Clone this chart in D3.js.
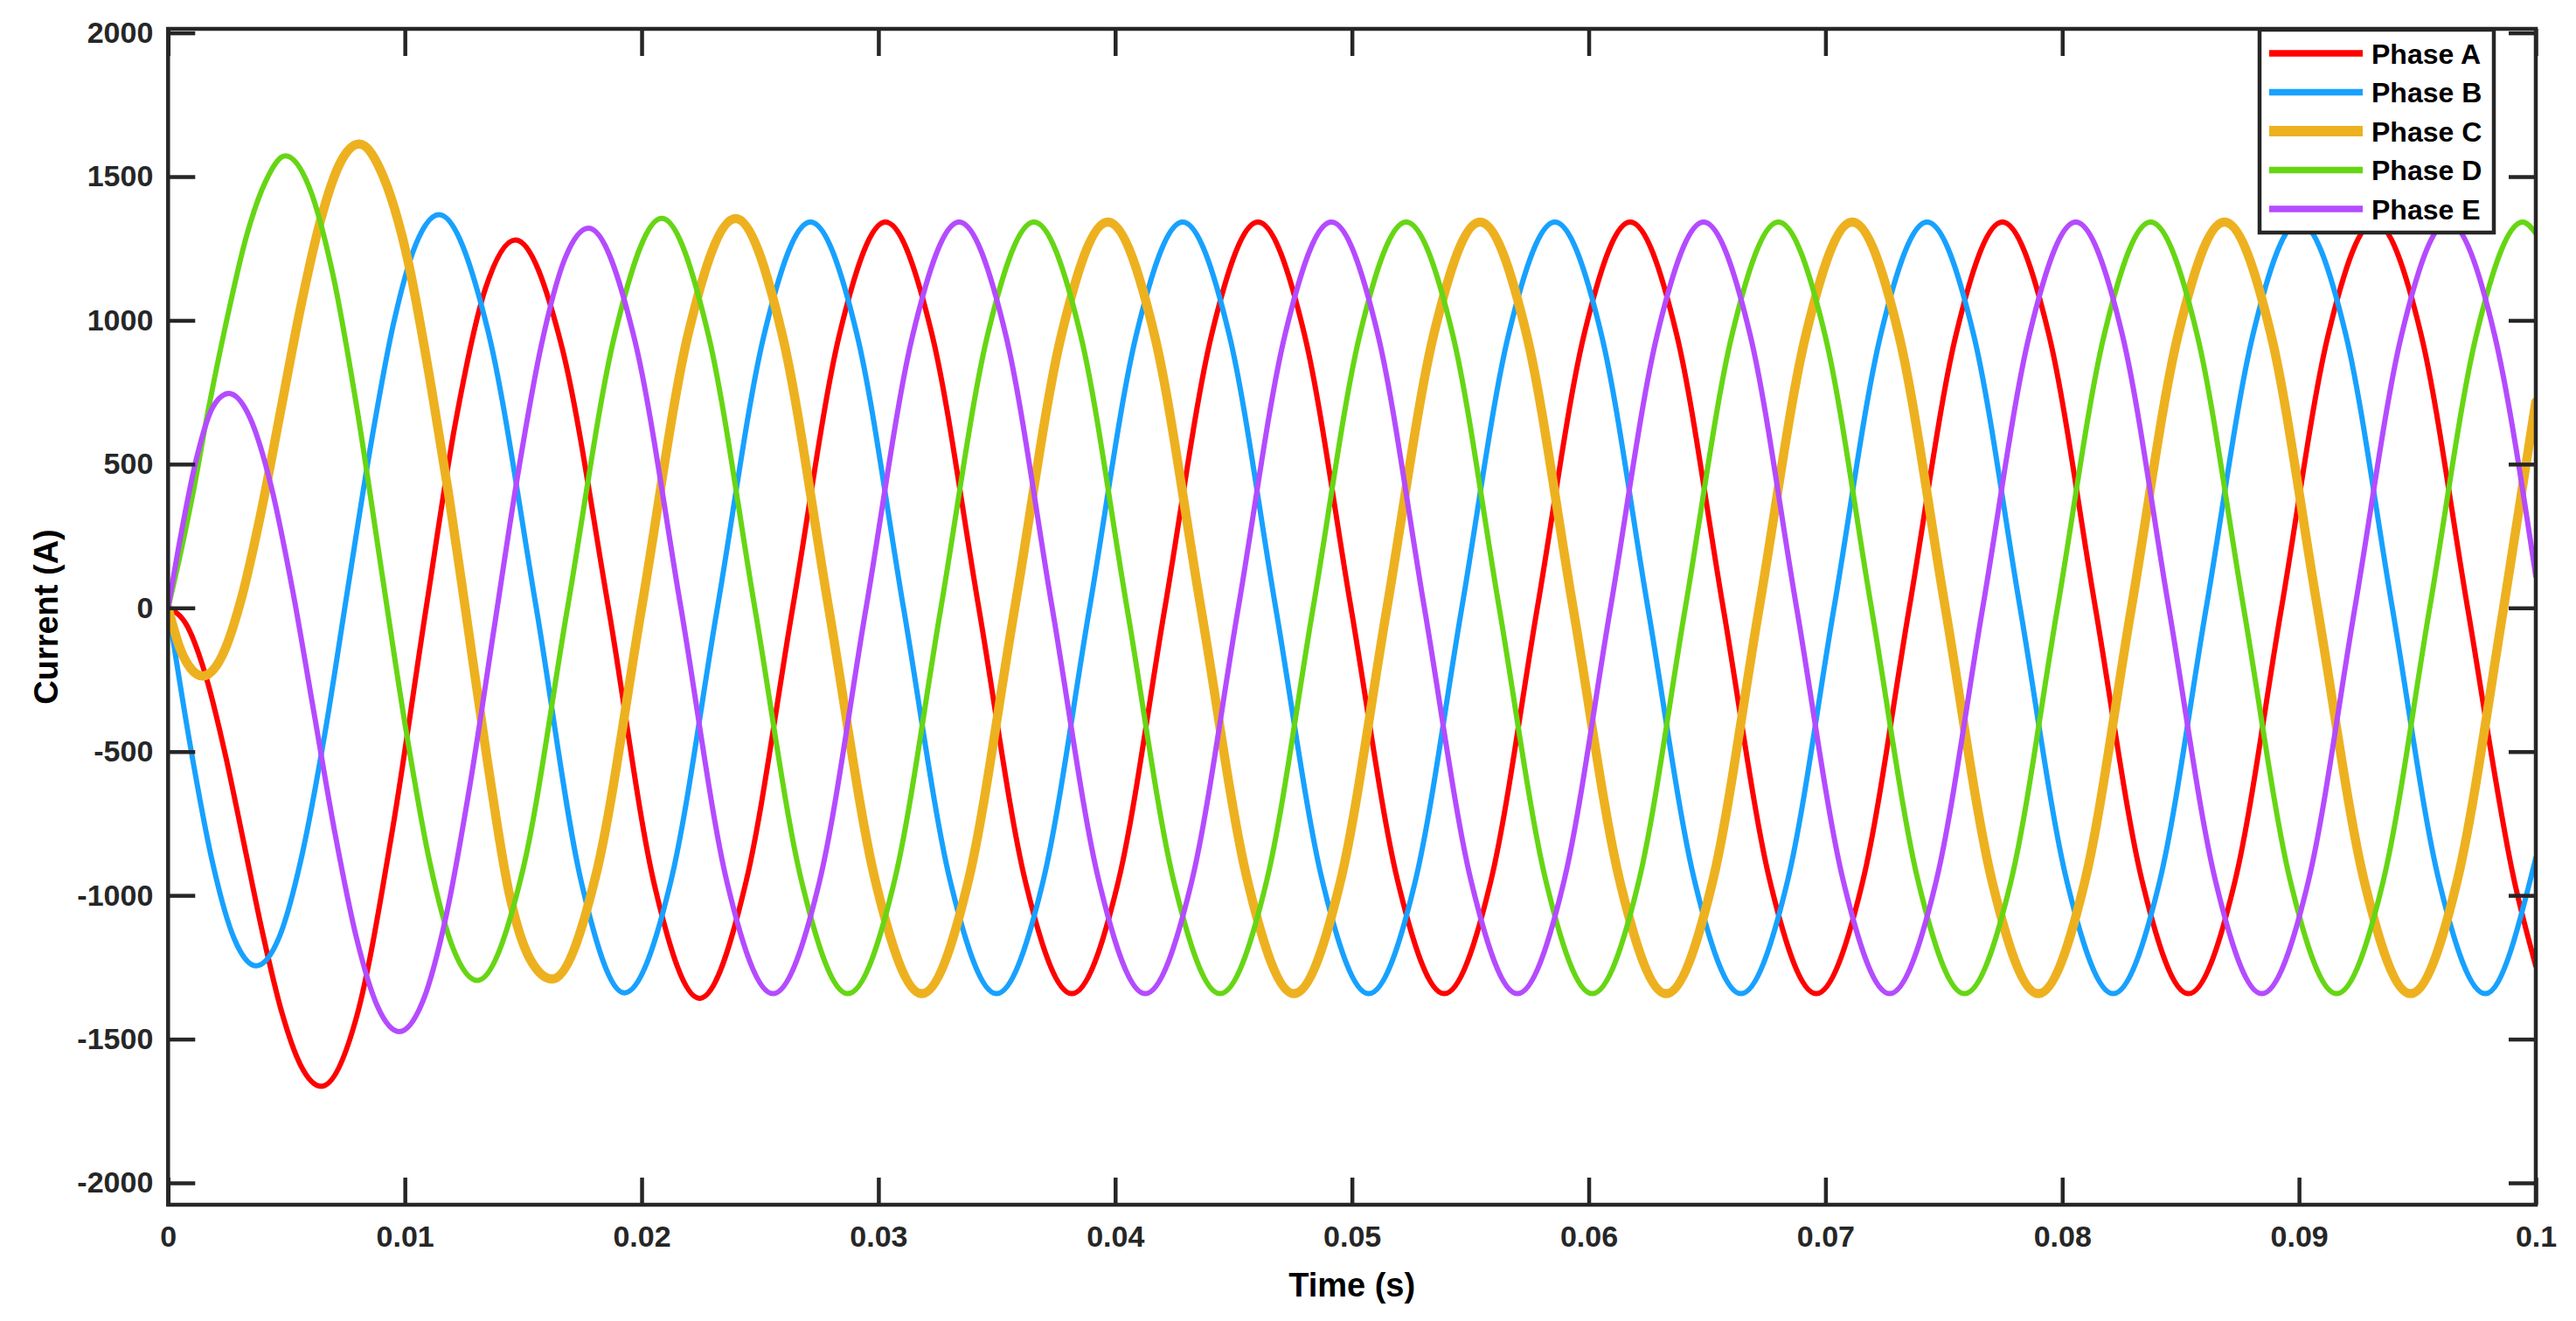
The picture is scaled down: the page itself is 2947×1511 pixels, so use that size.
<!DOCTYPE html>
<html>
<head>
<meta charset="utf-8">
<script src="https://cdn.jsdelivr.net/npm/d3@7"></script>
<style>
  html, body { margin: 0; padding: 0; background: #fff; }
  svg { display: block; }
  text { font-family: "Liberation Sans", Arial, sans-serif; font-weight: bold; }
</style>
</head>
<body>
<svg id="chart" width="2947" height="1511"></svg>
<script>
// ---------------- DATA ----------------
const xTicks = [0, 0.01, 0.02, 0.03, 0.04, 0.05, 0.06, 0.07, 0.08, 0.09, 0.1];
const xTickLabels = ["0", "0.01", "0.02", "0.03", "0.04", "0.05", "0.06", "0.07", "0.08", "0.09", "0.1"];
const yTicks = [-2000, -1500, -1000, -500, 0, 500, 1000, 1500, 2000];
const yTickLabels = ["-2000", "-1500", "-1000", "-500", "0", "500", "1000", "1500", "2000"];
const seriesNames = ["Phase A", "Phase B", "Phase C", "Phase D", "Phase E"];

// [time (s), current (A)]
const phaseA = [
  [0,0],[0.0008,-62],[0.0016,-239],[0.0024,-504],[0.0032,-818],[0.004,-1134],[0.0048,-1406],[0.0056,-1591],
  [0.00647,-1664],[0.00797,-1420],[0.00944,-790],[0.0109,0],[0.01215,650],[0.0134,1110],[0.01467,1280],
  [0.01664,905],[0.0186,0],[0.02053,-960],[0.02245,-1358],[0.02442,-949],[0.02638,0],[0.02835,949],
  [0.0303,1342],[0.03227,949],[0.03424,0],[0.0362,-949],[0.03817,-1342],[0.04014,-949],[0.0421,0],
  [0.04407,949],[0.04603,1342],[0.048,949],[0.04996,0],[0.05193,-949],[0.0539,-1342],[0.05587,-949],
  [0.05783,0],[0.0598,949],[0.06175,1342],[0.06372,949],[0.06568,0],[0.06765,-949],[0.06961,-1342],
  [0.07158,-949],[0.07354,0],[0.07551,949],[0.07747,1342],[0.07944,949],[0.0814,0],[0.08337,-949],
  [0.08533,-1342],[0.0873,-949],[0.08926,0],[0.09123,949],[0.09319,1342],[0.09516,949],[0.09712,0],
  [0.09909,-949],[0.1,-1246]
];
const phaseB = [
  [0,0],[0.00093,-476],[0.00186,-880],[0.00279,-1150],[0.00372,-1245],[0.00469,-1146],[0.00565,-862],
  [0.00662,-438],[0.00758,62],[0.00855,561],[0.00951,985],[0.01048,1268],[0.01144,1368],[0.0135,967],
  [0.01555,0],[0.01744,-949],[0.01927,-1339],[0.02124,-949],[0.0232,0],[0.02517,949],[0.02713,1342],
  [0.0291,949],[0.03106,0],[0.03303,-949],[0.03499,-1342],[0.03696,-949],[0.03892,0],[0.04089,949],
  [0.04285,1342],[0.04482,949],[0.04678,0],[0.04875,-949],[0.05071,-1342],[0.05268,-949],[0.05464,0],
  [0.05661,949],[0.05857,1342],[0.06054,949],[0.0625,0],[0.06447,-949],[0.06643,-1342],[0.0684,-949],
  [0.07036,0],[0.07233,949],[0.07429,1342],[0.07626,949],[0.07822,0],[0.08019,-949],[0.08215,-1342],
  [0.08412,-949],[0.08608,0],[0.08805,949],[0.09001,1342],[0.09198,949],[0.09394,0],[0.09591,-949],
  [0.09787,-1342],[0.1,-870]
];
const phaseC = [
  [0,0],[0.0005,-140],[0.001,-215],[0.00145,-237],[0.00228,-167],[0.0031,34],[0.00393,334],[0.00476,688],
  [0.00559,1042],[0.00642,1342],[0.00724,1543],[0.00807,1613],[0.00909,1500],[0.01011,1215],[0.01113,760],
  [0.01184,400],[0.01255,0],[0.01348,-530],[0.0144,-990],[0.01531,-1225],[0.01622,-1291],[0.01811,-915],
  [0.02,0],[0.02198,957],[0.02397,1354],[0.02594,949],[0.0279,0],[0.02987,-949],[0.03183,-1342],
  [0.0338,-949],[0.03576,0],[0.03773,949],[0.03969,1342],[0.04166,949],[0.04362,0],[0.04559,-949],
  [0.04755,-1342],[0.04952,-949],[0.05148,0],[0.05345,949],[0.05541,1342],[0.05738,949],[0.05934,0],
  [0.06131,-949],[0.06327,-1342],[0.06524,-949],[0.0672,0],[0.06917,949],[0.07113,1342],[0.0731,949],
  [0.07506,0],[0.07703,-949],[0.07899,-1342],[0.08096,-949],[0.08292,0],[0.08489,949],[0.08685,1342],
  [0.08882,949],[0.09078,0],[0.09275,-949],[0.09471,-1342],[0.09668,-949],[0.09864,0],[0.1,716]
];
const phaseD = [
  [0,0],[0.0005,180],[0.00108,411],[0.0017,690],[0.0025,1010],[0.0033,1290],[0.0041,1480],[0.00495,1572],
  [0.00596,1463],[0.00698,1152],[0.00799,687],[0.009,138],[0.01002,-411],[0.01103,-876],[0.01205,-1187],
  [0.01306,-1296],[0.01497,-916],[0.01687,0],[0.01888,955],[0.02085,1355],[0.02282,949],[0.02478,0],
  [0.02675,-949],[0.02871,-1342],[0.03068,-949],[0.03264,0],[0.03461,949],[0.03657,1342],[0.03854,949],
  [0.0405,0],[0.04247,-949],[0.04443,-1342],[0.0464,-949],[0.04836,0],[0.05033,949],[0.05229,1342],
  [0.05426,949],[0.05622,0],[0.05819,-949],[0.06015,-1342],[0.06212,-949],[0.06408,0],[0.06605,949],
  [0.06801,1342],[0.06998,949],[0.07194,0],[0.07391,-949],[0.07587,-1342],[0.07784,-949],[0.0798,0],
  [0.08177,949],[0.08373,1342],[0.0857,949],[0.08766,0],[0.08963,-949],[0.09159,-1342],[0.09356,-949],
  [0.09552,0],[0.09749,949],[0.09945,1342],[0.1,1303]
];
const phaseE = [
  [0,0],[0.0006,280],[0.0012,520],[0.0019,700],[0.00256,746],[0.00346,661],[0.00436,421],[0.00526,61],
  [0.00616,-364],[0.00706,-789],[0.00796,-1149],[0.00886,-1389],[0.00976,-1474],[0.01076,-1368],
  [0.01176,-1065],[0.01276,-611],[0.01376,-76],[0.01476,458],[0.01576,912],[0.01676,1215],[0.01776,1321],
  [0.01971,931],[0.02166,0],[0.0236,-952],[0.02555,-1342],[0.02752,-949],[0.02948,0],[0.03145,949],
  [0.03341,1342],[0.03538,949],[0.03734,0],[0.03931,-949],[0.04127,-1342],[0.04324,-949],[0.0452,0],
  [0.04717,949],[0.04913,1342],[0.0511,949],[0.05306,0],[0.05503,-949],[0.05699,-1342],[0.05896,-949],
  [0.06092,0],[0.06289,949],[0.06485,1342],[0.06682,949],[0.06878,0],[0.07075,-949],[0.07271,-1342],
  [0.07468,-949],[0.07664,0],[0.07861,949],[0.08057,1342],[0.08254,949],[0.0845,0],[0.08647,-949],
  [0.08843,-1342],[0.0904,-949],[0.09236,0],[0.09433,949],[0.09629,1342],[0.09826,949],[0.1,110]
];

// ---------------- STYLE ----------------
const colors = ["#FF0000", "#17A1FF", "#EDB120", "#66D614", "#B44BFF"];
const widths = [6, 6, 10.5, 6, 6];
const allSeries = [phaseA, phaseB, phaseC, phaseD, phaseE];

// ---------------- LAYOUT ----------------
const L = 192.3, R = 2901, T = 33, B = 1378;
const x = d3.scaleLinear().domain([0, 0.1]).range([L, R]);
const y = d3.scaleLinear().domain([-2076, 2014]).range([B, T]);
const axisColor = "#262626";

const svg = d3.select("#chart");
svg.append("rect").attr("width", 2947).attr("height", 1511).attr("fill", "#fff");

svg.append("defs").append("clipPath").attr("id", "clip")
  .append("rect").attr("x", L).attr("y", T).attr("width", R - L).attr("height", B - T);

// curves
const line = d3.line().x(d => x(d[0])).y(d => y(d[1])).curve(d3.curveMonotoneX);
const plot = svg.append("g").attr("clip-path", "url(#clip)");
allSeries.forEach((s, i) => {
  plot.append("path").datum(s)
    .attr("fill", "none")
    .attr("stroke", colors[i])
    .attr("stroke-width", widths[i])
    .attr("stroke-linejoin", "round")
    .attr("stroke-linecap", "round")
    .attr("d", line);
});

// axes
function styleAxis(g, showLabels) {
  g.select(".domain").remove();
  g.selectAll(".tick line").attr("stroke", axisColor).attr("stroke-width", 4.5);
  g.selectAll(".tick text").attr("fill", axisColor).style("font-size", "34px")
    .style("font-family", '"Liberation Sans", Arial, sans-serif').style("font-weight", "bold");
  if (!showLabels) g.selectAll(".tick text").remove();
}
const tickLen = 31;
svg.append("g").attr("transform", `translate(0,${B})`)
  .call(d3.axisBottom(x).tickValues(xTicks).tickFormat((d, i) => xTickLabels[i]).tickSize(-tickLen).tickPadding(24))
  .call(g => styleAxis(g, true));
svg.append("g").attr("transform", `translate(0,${T})`)
  .call(d3.axisTop(x).tickValues(xTicks).tickSize(-tickLen))
  .call(g => styleAxis(g, false));
svg.append("g").attr("transform", `translate(${L},0)`)
  .call(d3.axisLeft(y).tickValues(yTicks).tickFormat((d, i) => yTickLabels[i]).tickSize(-tickLen).tickPadding(17))
  .call(g => styleAxis(g, true));
svg.append("g").attr("transform", `translate(${R},0)`)
  .call(d3.axisRight(y).tickValues(yTicks).tickSize(-tickLen))
  .call(g => styleAxis(g, false));

// frame
svg.append("rect").attr("x", L).attr("y", T).attr("width", R - L).attr("height", B - T)
  .attr("fill", "none").attr("stroke", axisColor).attr("stroke-width", 4.5);

// axis labels
svg.append("text").attr("x", (L + R) / 2).attr("y", 1483).attr("text-anchor", "middle")
  .attr("fill", "#000").style("font-size", "38px").text("Time (s)");
svg.append("text").attr("transform", `translate(66,${(T + B) / 2}) rotate(-90)`)
  .attr("text-anchor", "middle").attr("fill", "#000").style("font-size", "38px").text("Current (A)");

// legend
const lg = svg.append("g");
const lgX = 2585, lgY = 34, lgW = 268, lgH = 232;
lg.append("rect").attr("x", lgX).attr("y", lgY).attr("width", lgW).attr("height", lgH)
  .attr("fill", "#fff").attr("stroke", axisColor).attr("stroke-width", 4.5);
seriesNames.forEach((name, i) => {
  const cy = 61 + i * 44.5;
  lg.append("line").attr("x1", 2596).attr("x2", 2703).attr("y1", cy).attr("y2", cy)
    .attr("stroke", colors[i]).attr("stroke-width", widths[i] + 1.5);
  lg.append("text").attr("x", 2713).attr("y", cy).attr("dy", "0.36em")
    .attr("fill", "#000").style("font-size", "32px").text(name);
});
</script>
